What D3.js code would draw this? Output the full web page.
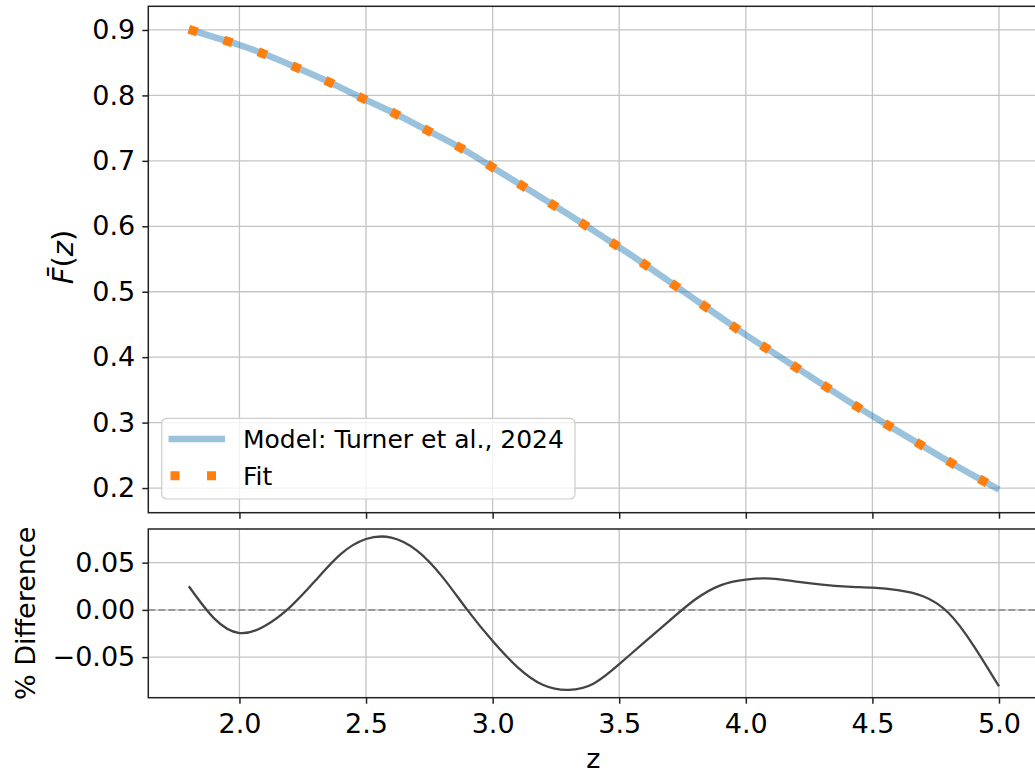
<!DOCTYPE html>
<html>
<head>
<meta charset="utf-8">
<script src="https://cdn.jsdelivr.net/npm/d3@7"></script>
<style>
  html, body { margin: 0; padding: 0; background: #fff; }
  svg { display: block; font-family: "DejaVu Sans", sans-serif; }
</style>
</head>
<body>
<svg id="chart" width="1035" height="772"></svg>
<script>
// Redshift grid for the model curve and the fit
const zModel = [1.8, 1.9, 2.0, 2.1, 2.2, 2.3, 2.4, 2.5, 2.6, 2.7, 2.8, 2.9, 3.0, 3.1, 3.2, 3.3, 3.4,
                3.5, 3.6, 3.7, 3.8, 3.9, 4.0, 4.1, 4.2, 4.3, 4.4, 4.5, 4.6, 4.7, 4.8, 4.9, 5.0];
// Mean transmitted flux, model
const fModel = [0.901, 0.889, 0.877, 0.863, 0.847, 0.830, 0.812, 0.793, 0.775, 0.755, 0.735, 0.714,
                0.690, 0.666, 0.642, 0.618, 0.593, 0.568, 0.542, 0.515, 0.488, 0.461, 0.434, 0.409,
                0.384, 0.359, 0.334, 0.310, 0.287, 0.264, 0.241, 0.219, 0.1975];
// Mean transmitted flux, fitted form
const fFit = [0.901, 0.889, 0.877, 0.863, 0.847, 0.830, 0.812, 0.793, 0.775, 0.755, 0.735, 0.714,
              0.690, 0.666, 0.642, 0.618, 0.593, 0.568, 0.542, 0.515, 0.488, 0.461, 0.434, 0.409,
              0.384, 0.359, 0.334, 0.310, 0.287, 0.264, 0.241, 0.219, 0.1975];
// Percent difference between fit and model
const zDiff = [1.8, 1.9, 2.0, 2.1, 2.2, 2.3, 2.4, 2.5, 2.6, 2.7, 2.8, 2.9, 3.0, 3.1, 3.2, 3.3, 3.4,
               3.5, 3.6, 3.7, 3.8, 3.9, 4.0, 4.1, 4.2, 4.3, 4.4, 4.5, 4.6, 4.7, 4.8, 4.9, 5.0];
const pctDiff = [0.025, -0.009, -0.0245, -0.017, 0.003, 0.031, 0.059, 0.075, 0.0765, 0.063, 0.0355,
                 0.000, -0.033, -0.061, -0.0795, -0.0846, -0.0778, -0.0575, -0.034, -0.011, 0.011,
                 0.026, 0.032, 0.0332, 0.030, 0.0268, 0.0247, 0.0235, 0.021, 0.0145, -0.003,
                 -0.038, -0.081];

const xTicks = [2.0, 2.5, 3.0, 3.5, 4.0, 4.5, 5.0];
const yTicksTop = [0.2, 0.3, 0.4, 0.5, 0.6, 0.7, 0.8, 0.9];
const yTicksBottom = [-0.05, 0.00, 0.05];

const legendLabels = ["Model: Turner et al., 2024", "Fit"];

const FONT = 27;
const LEGEND_FONT = 25;
const BLUE = "rgb(31,119,180)";
const ORANGE = "#ff7f0e";
const GRID = "#c4c4c4";
const SPINE = "#222";

const svg = d3.select("#chart");

// Panel geometry
const left = 148.3, right = 1039.5;
const top1 = 6.3, bottom1 = 512.7;
const top2 = 529, bottom2 = 697.7;

function padded(ext, frac) {
  const span = ext[1] - ext[0];
  return [ext[0] - span * frac, ext[1] + span * frac];
}

const x = d3.scaleLinear().domain(padded(d3.extent(zModel), 0.05)).range([left, right]);
const yTop = d3.scaleLinear()
  .domain(padded(d3.extent(fModel.concat(fFit)), 0.05)).range([bottom1, top1]);
const yBot = d3.scaleLinear().domain(padded([-0.0848, 0.0775], 0.05)).range([bottom2, top2]);

// Clip paths for each panel
const defs = svg.append("defs");
defs.append("clipPath").attr("id", "clipTop")
  .append("rect").attr("x", left).attr("y", top1).attr("width", right - left).attr("height", bottom1 - top1);
defs.append("clipPath").attr("id", "clipBot")
  .append("rect").attr("x", left).attr("y", top2).attr("width", right - left).attr("height", bottom2 - top2);

function drawGrid(g, yScale, yTicks, y0, y1) {
  g.selectAll("line.v").data(xTicks).join("line").attr("class", "v")
    .attr("x1", d => x(d)).attr("x2", d => x(d)).attr("y1", y0).attr("y2", y1)
    .attr("stroke", GRID).attr("stroke-width", 1.3);
  g.selectAll("line.h").data(yTicks).join("line").attr("class", "h")
    .attr("x1", left).attr("x2", right).attr("y1", d => yScale(d)).attr("y2", d => yScale(d))
    .attr("stroke", GRID).attr("stroke-width", 1.3);
}

// ---------- Top panel: mean flux ----------
const gTop = svg.append("g");
drawGrid(gTop.append("g"), yTop, yTicksTop, top1, bottom1);

const lineModel = d3.line().x((d, i) => x(zModel[i])).y(d => yTop(d)).curve(d3.curveNatural);

const plotTop = gTop.append("g").attr("clip-path", "url(#clipTop)");
plotTop.append("path").datum(fModel)
  .attr("d", lineModel).attr("fill", "none")
  .attr("stroke", BLUE).attr("stroke-opacity", 0.45).attr("stroke-width", 6.5);
plotTop.append("path").datum(fFit)
  .attr("d", lineModel).attr("fill", "none")
  .attr("stroke", ORANGE).attr("stroke-width", 9)
  .attr("stroke-dasharray", "9,27.5").attr("stroke-linecap", "butt");

// Left axis, top panel
gTop.append("g").attr("transform", `translate(${left},0)`)
  .call(d3.axisLeft(yTop).tickValues(yTicksTop).tickFormat(d3.format(".1f")).tickSize(6).tickPadding(7));
// Bottom tick marks, top panel (labels shared with lower panel)
gTop.append("g").attr("transform", `translate(0,${bottom1})`)
  .call(d3.axisBottom(x).tickValues(xTicks).tickFormat("").tickSize(6));

// Frame
gTop.append("rect").attr("x", left).attr("y", top1).attr("width", right - left).attr("height", bottom1 - top1)
  .attr("fill", "none").attr("stroke", SPINE).attr("stroke-width", 1.5);

// Legend
const lg = gTop.append("g");
lg.append("rect").attr("x", 161.7).attr("y", 418.3).attr("width", 413.3).attr("height", 80.7)
  .attr("rx", 5).attr("fill", "#fff").attr("fill-opacity", 0.8)
  .attr("stroke", "#cccccc").attr("stroke-width", 1.2);
lg.append("line").attr("x1", 168.5).attr("x2", 225).attr("y1", 439).attr("y2", 439)
  .attr("stroke", BLUE).attr("stroke-opacity", 0.45).attr("stroke-width", 6.5);
lg.append("line").attr("x1", 170.5).attr("x2", 225).attr("y1", 475.7).attr("y2", 475.7)
  .attr("stroke", ORANGE).attr("stroke-width", 9).attr("stroke-dasharray", "9,27.5");
lg.selectAll("text").data(legendLabels).join("text")
  .attr("x", 243).attr("y", (d, i) => [448, 484.7][i])
  .attr("font-size", LEGEND_FONT).attr("fill", "#000").text(d => d);

// Y label with mathtext-like styling
const yl1 = svg.append("text")
  .attr("transform", `translate(73,257) rotate(-90)`)
  .attr("text-anchor", "middle").attr("font-size", 29).attr("fill", "#000");
yl1.append("tspan").attr("font-style", "italic").text("F\u0304");
yl1.append("tspan").text("(");
yl1.append("tspan").attr("font-style", "italic").text("z");
yl1.append("tspan").text(")");

// ---------- Bottom panel: percent difference ----------
const gBot = svg.append("g");
drawGrid(gBot.append("g"), yBot, yTicksBottom, top2, bottom2);

const plotBot = gBot.append("g").attr("clip-path", "url(#clipBot)");
// Zero reference
plotBot.append("line").attr("x1", left).attr("x2", right)
  .attr("y1", yBot(0)).attr("y2", yBot(0))
  .attr("stroke", "#9a9a9a").attr("stroke-width", 2).attr("stroke-dasharray", "7,3");
const lineDiff = d3.line().x((d, i) => x(zDiff[i])).y(d => yBot(d)).curve(d3.curveNatural);
plotBot.append("path").datum(pctDiff)
  .attr("d", lineDiff).attr("fill", "none")
  .attr("stroke", "#444").attr("stroke-width", 2.3);

gBot.append("g").attr("transform", `translate(${left},0)`)
  .call(d3.axisLeft(yBot).tickValues(yTicksBottom).tickFormat(d3.format(".2f")).tickSize(6).tickPadding(7));
gBot.append("g").attr("transform", `translate(0,${bottom2})`)
  .call(d3.axisBottom(x).tickValues(xTicks).tickFormat(d3.format(".1f")).tickSize(6).tickPadding(10));

gBot.append("rect").attr("x", left).attr("y", top2).attr("width", right - left).attr("height", bottom2 - top2)
  .attr("fill", "none").attr("stroke", SPINE).attr("stroke-width", 1.5);

svg.append("text")
  .attr("transform", `translate(34.5,${(top2 + bottom2) / 2}) rotate(-90)`)
  .attr("text-anchor", "middle").attr("font-size", FONT).attr("fill", "#000")
  .text("% Difference");

svg.append("text")
  .attr("x", (left + right) / 2 - 0.5).attr("y", 767.5)
  .attr("text-anchor", "middle").attr("font-size", FONT).attr("fill", "#000")
  .text("z");

// Shared axis styling
svg.selectAll(".domain").remove();
svg.selectAll(".tick line").attr("stroke", SPINE).attr("stroke-width", 1.5);
svg.selectAll(".tick text").attr("font-size", FONT).attr("fill", "#000")
  .attr("font-family", "DejaVu Sans, sans-serif");
</script>
</body>
</html>
